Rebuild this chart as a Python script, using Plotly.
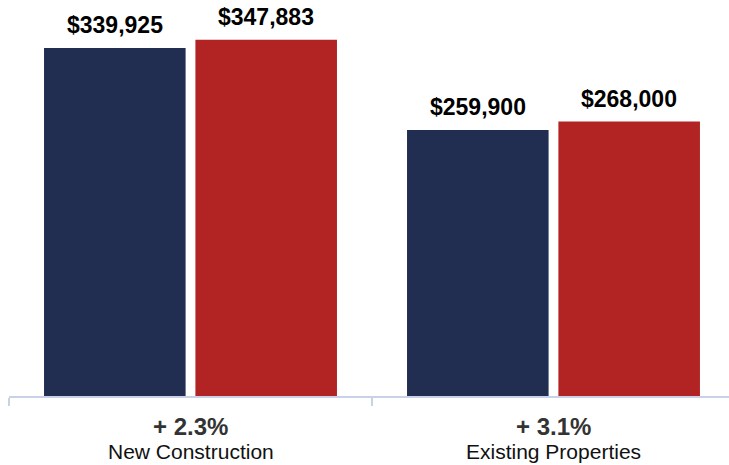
import plotly.graph_objects as go

# Median sale prices by property type, prior period vs current period
categories = ["New Construction", "Existing Properties"]
prior_values = [339925, 259900]
current_values = [347883, 268000]
series_colors = ["#222d52", "#b22324"]

# Percent change labels derived from the two series
pct_labels = [f"+ {(c / p - 1) * 100:.1f}%" for p, c in zip(prior_values, current_values)]

BAR_W = 0.39
GAP = 0.027
offsets = [-BAR_W - GAP / 2, GAP / 2]
FONT = "Liberation Sans, Arial, Helvetica, sans-serif"

fig = go.Figure()
for vals, color, off in zip([prior_values, current_values], series_colors, offsets):
    fig.add_trace(go.Bar(
        x=categories,
        y=vals,
        width=[BAR_W] * len(vals),
        offset=[off] * len(vals),
        marker=dict(color=color, line=dict(width=0)),
        hoverinfo="skip",
        showlegend=False,
    ))

annotations = []
for vals, off in zip([prior_values, current_values], offsets):
    for i, v in enumerate(vals):
        annotations.append(dict(
            x=i + off + BAR_W / 2, y=v, xref="x", yref="y",
            text=f"<b>${v:,.0f}</b>", showarrow=False,
            yanchor="middle", yshift=23,
            font=dict(family=FONT, size=23, color="#000000"),
        ))

for i, (cat, pct) in enumerate(zip(categories, pct_labels)):
    annotations.append(dict(
        x=i, y=0, xref="x", yref="y", text=f"<b>{pct}</b>", showarrow=False,
        yanchor="middle", yshift=-30,
        font=dict(family=FONT, size=24, color="#333333"),
    ))
    annotations.append(dict(
        x=i, y=0, xref="x", yref="y", text=cat, showarrow=False,
        yanchor="middle", yshift=-55,
        font=dict(family=FONT, size=21, color="#111111"),
    ))

fig.update_layout(
    width=729, height=465,
    margin=dict(l=9, r=0, t=10, b=69),
    paper_bgcolor="white", plot_bgcolor="white",
    barmode="overlay",
    annotations=annotations,
    xaxis=dict(
        type="category",
        range=[-0.5, 1.4835],
        showline=True, linecolor="#c9d1e8", linewidth=2,
        ticks="outside", tickson="boundaries", ticklen=8,
        tickcolor="#c9d1e8", tickwidth=2,
        showticklabels=False, showgrid=False, zeroline=False,
    ),
    yaxis=dict(
        range=[0, 377000], visible=False,
        showgrid=False, zeroline=False,
    ),
)

fig.write_html("out.html")
